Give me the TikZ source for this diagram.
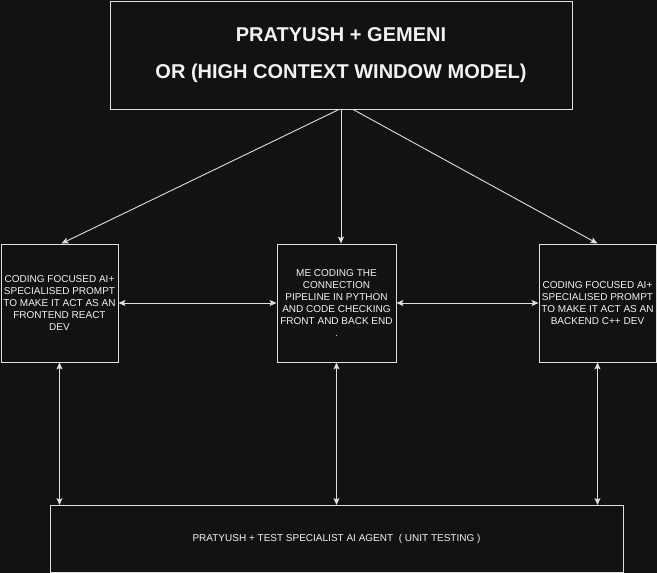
\documentclass[tikz,border=0pt]{standalone}
\usepackage{fontspec}
\setmainfont{Liberation Sans}
\usetikzlibrary{arrows.meta,calc}
\definecolor{bg}{HTML}{121212}
\definecolor{edge}{HTML}{E0E0E0}
\definecolor{txt}{HTML}{F2F2F2}
\begin{document}
\begin{tikzpicture}[x=1pt,y=-1pt,
  box/.style={draw=edge,fill=bg,line width=0.9pt,inner sep=0pt,rectangle,text=txt,align=center},
  small/.style={font=\fontsize{10}{12}\selectfont},
  big/.style={font=\fontsize{20}{37.5}\selectfont\bfseries},
  link/.style={draw=edge,line width=0.9pt,{Stealth[length=7pt,width=6pt,inset=1.5pt]}-{Stealth[length=7pt,width=6pt,inset=1.5pt]}},
  oneway/.style={draw=edge,line width=0.9pt,-{Stealth[length=7pt,width=6pt,inset=1.5pt]}}]
\fill[bg] (0,0) rectangle (657,573);
\useasboundingbox (0,0) rectangle (657,573);
\node[box,big,minimum width=462pt,minimum height=108pt] (top) at (341,55) {PRATYUSH + GEMENI\\OR (HIGH CONTEXT WINDOW MODEL)};
\node[box,small,minimum width=117pt,minimum height=118pt] (left) at (59.5,303) {CODING FOCUSED AI+\\SPECIALISED PROMPT\\TO MAKE IT ACT AS AN\\FRONTEND REACT\\DEV};
\node[box,small,minimum width=119pt,minimum height=118pt] (mid) at (336.5,303) {ME CODING THE\\CONNECTION\\PIPELINE IN PYTHON\\AND CODE CHECKING\\FRONT AND BACK END\\.};
\node[box,small,minimum width=117pt,minimum height=118pt] (right) at (597.5,303) {CODING FOCUSED AI+\\SPECIALISED PROMPT\\TO MAKE IT ACT AS AN\\BACKEND C++ DEV};
\node[box,small,minimum width=573pt,minimum height=67pt] (bottom) at (336.5,539) {PRATYUSH + TEST SPECIALIST AI AGENT\ \ ( UNIT TESTING )};
\coordinate (tl) at ($(top.south)+(-2,0)$);
\coordinate (tr) at ($(top.south)+(12,0)$);
\draw[oneway] (top.south) -- (top.south |- mid.north);
\draw[oneway] (tl) -- ($(left.north)+(2,0)$);
\draw[oneway] (tr) -- (right.north);
\draw[link] (left.east) -- (mid.west);
\draw[link] (mid.east) -- (right.west);
\draw[link] (left.south) -- (left.south |- bottom.north);
\draw[link] (mid.south) -- (mid.south |- bottom.north);
\draw[link] (right.south) -- (right.south |- bottom.north);
\end{tikzpicture}
\end{document}
